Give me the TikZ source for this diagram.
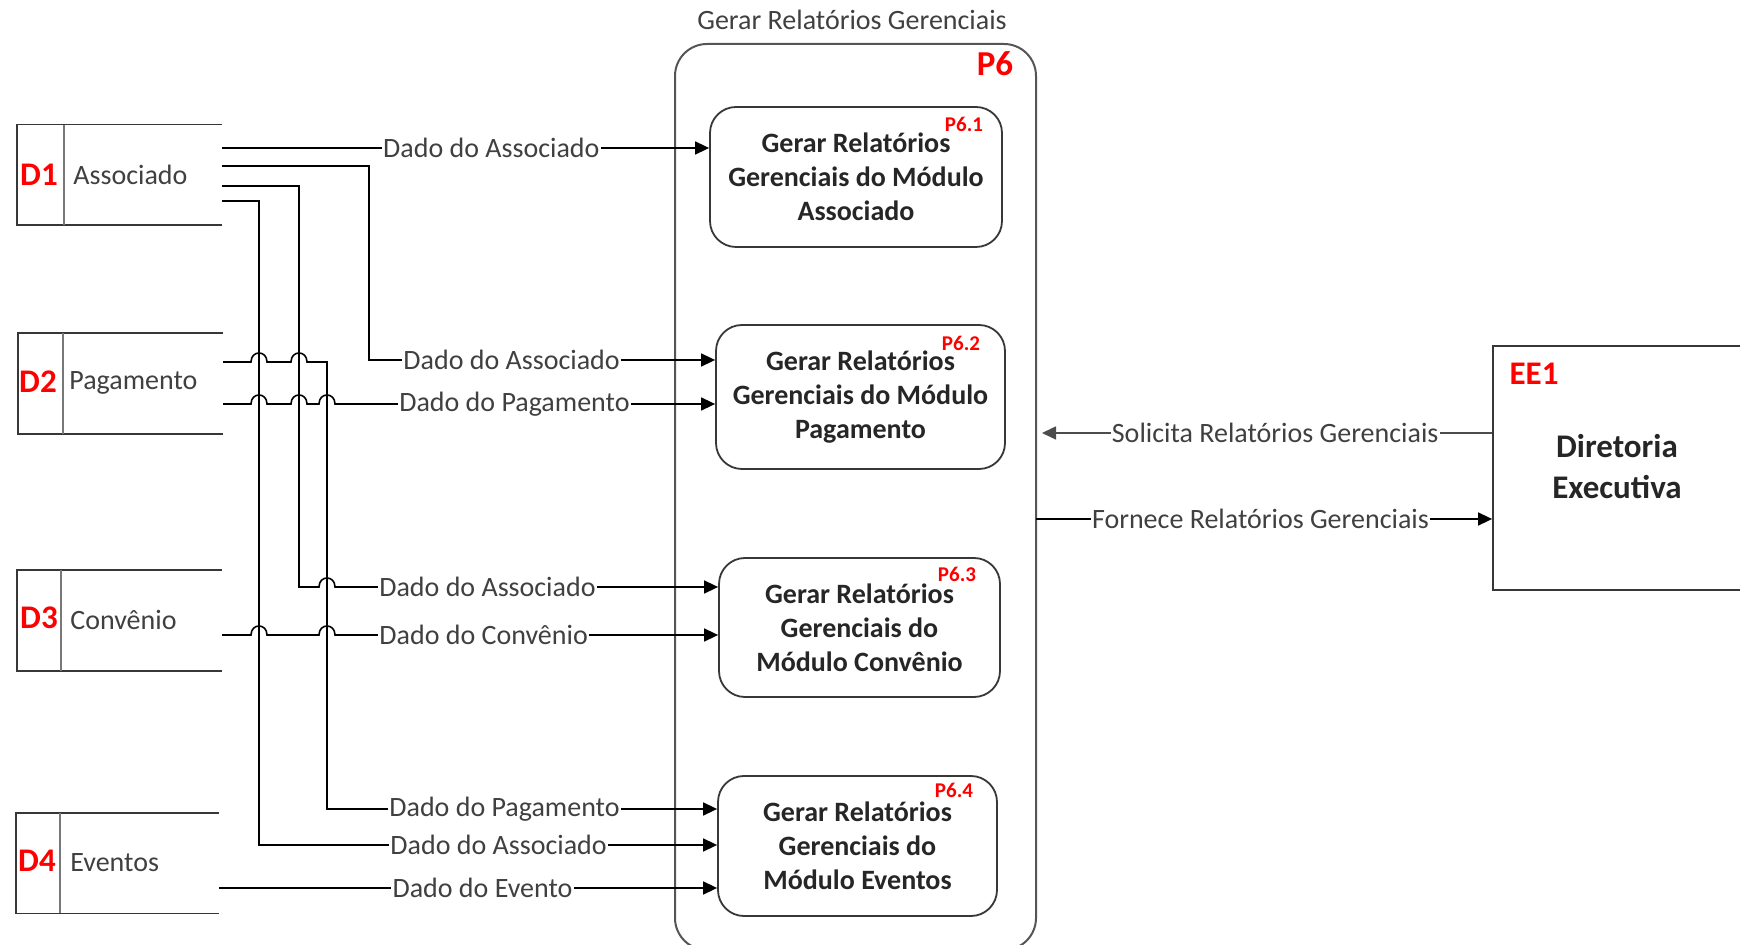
\documentclass[tikz,border=0pt]{standalone}
\usepackage{fontspec}
\setmainfont{Carlito}
\usetikzlibrary{arrows.meta,calc}
\definecolor{ered}{RGB}{255,0,0}
\definecolor{txt}{RGB}{64,64,64}
\definecolor{bord}{RGB}{55,55,55}
\definecolor{grpc}{RGB}{85,85,85}
\definecolor{divc}{RGB}{120,120,120}
\newcommand\hopx[2]{-- ({#1-8},#2) .. controls ({#1-8},{#2-12}) and ({#1+8},{#2-12}) .. ({#1+8},#2)}
\begin{document}
\begin{tikzpicture}[x=0.5pt,y=-0.5pt,
  every node/.style={inner sep=0pt},
  store/.style={minimum width=102.5pt,minimum height=50pt},
  storeln/.style={draw=bord,line width=0.9pt},
  divln/.style={draw=divc,line width=1.1pt},
  did/.style={text=ered,font=\fontsize{16.5}{19}\selectfont\bfseries},
  sname/.style={anchor=west,text=txt,font=\fontsize{14}{17}\selectfont},
  proc/.style={draw=bord,line width=0.9pt,rounded corners=13pt,align=center,text=black!85,font=\fontsize{14}{17}\selectfont\bfseries},
  pid/.style={text=ered,font=\fontsize{10.5}{12}\selectfont\bfseries},
  flow/.style={draw=black,line width=0.8pt,-{Triangle[length=7pt,width=6.5pt]}},
  lbl/.style={fill=white,inner xsep=0.6pt,inner ysep=1pt,text=txt,font=\fontsize{14}{17}\selectfont},
]
\useasboundingbox (0,0) rectangle (1740,945);

% process group P6
\node[draw=grpc,line width=1pt,rounded corners=16pt,minimum width=180.5pt,minimum height=453pt] (P6) at (855.5,497) {};
\node[text=txt,font=\fontsize{14}{17}\selectfont] (P6title) at (852,20) {Gerar Relatórios Gerenciais};
\node[text=ered,font=\fontsize{17.5}{20}\selectfont\bfseries] (P6id) at (995,64) {P6};

% subprocesses
\node[proc,minimum width=146pt,minimum height=70pt] (P61) at (856,177) {Gerar Relatórios\\Gerenciais do Módulo\\Associado};
\node[pid] (P61id) at (964,124) {P6.1};
\node[proc,minimum width=144.5pt,minimum height=72pt] (P62) at (860.5,397) {Gerar Relatórios\\Gerenciais do Módulo\\Pagamento};
\node[pid] (P62id) at (961,343) {P6.2};
\node[proc,minimum width=140.5pt,minimum height=69.5pt] (P63) at (859.5,627.5) {Gerar Relatórios\\Gerenciais do\\Módulo Convênio};
\node[pid] (P63id) at (957,574) {P6.3};
\node[proc,minimum width=139.5pt,minimum height=70pt] (P64) at (857.5,846) {Gerar Relatórios\\Gerenciais do\\Módulo Eventos};
\node[pid] (P64id) at (954,790) {P6.4};

% external entity
\node[draw=bord,line width=0.9pt,minimum width=126pt,minimum height=122pt] (EE1) at (1619,468) {};
\node[text=ered,font=\fontsize{16.5}{19}\selectfont\bfseries] (EE1id) at (1534,374) {EE1};
\node[align=center,text=black!85,font=\fontsize{16.5}{20.5}\selectfont\bfseries] (EE1name) at (1617,467) {Diretoria\\Executiva};

% data stores
\node[store] (D1) at (119.5,175) {};
\draw[storeln] (D1.north east) -- (D1.north west) -- (D1.south west) -- (D1.south east);
\draw[divln] ($(D1.north west)+(47,0)$) -- ($(D1.south west)+(47,0)$);
\node[did] (D1id) at (39,175) {D1};
\node[sname] (D1name) at (73,175) {Associado};

\node[store] (D2) at (120.5,383.5) {};
\draw[storeln] (D2.north east) -- (D2.north west) -- (D2.south west) -- (D2.south east);
\draw[divln] ($(D2.north west)+(45,0)$) -- ($(D2.south west)+(45,0)$);
\node[did] (D2id) at (38,382) {D2};
\node[sname] (D2name) at (69,383) {Pagamento};

\node[store] (D3) at (119.5,620.5) {};
\draw[storeln] (D3.north east) -- (D3.north west) -- (D3.south west) -- (D3.south east);
\draw[divln] ($(D3.north west)+(44,0)$) -- ($(D3.south west)+(44,0)$);
\node[did] (D3id) at (39,618) {D3};
\node[sname] (D3name) at (70,620) {Convênio};

\node[store,minimum width=101.5pt] (D4) at (117.5,863) {};
\draw[storeln] (D4.north east) -- (D4.north west) -- (D4.south west) -- (D4.south east);
\draw[divln] ($(D4.north west)+(44,0)$) -- ($(D4.south west)+(44,0)$);
\node[did] (D4id) at (37,861) {D4};
\node[sname] (D4name) at (70,863) {Eventos};

% connector ends
\coordinate (a1) at (222,148);
\coordinate (a2) at (222,166);
\coordinate (a3) at (222,186);
\coordinate (a4) at (222,201);
\coordinate (b1) at (223,362);
\coordinate (b2) at (223,404);
\coordinate (c1) at (222,635);
\coordinate (d1) at (219,888);
\coordinate (a2c) at (369,360);
\coordinate (a3c) at (299,587);
\coordinate (b1c) at (327,809);
\coordinate (a4c) at (259,845);
\coordinate (sol) at (1042,433);
\coordinate (forn) at (1036,519);

% flows
\draw[flow] (a1) -- node[lbl,pos=.553]{Dado do Associado} (P61.west |- a1);
\draw[flow] (a2) -- (a2 -| a2c) -- (a2c) -- node[lbl,pos=.412]{Dado do Associado} (P62.west |- a2c);
\draw[flow] (b2) \hopx{259}{404} \hopx{299}{404} \hopx{327}{404} -- node[lbl,pos=.472]{Dado do Pagamento} (P62.west |- b2);
\draw[flow] (a3) -- (a3 -| a3c) -- (a3c) \hopx{327}{587} -- node[lbl,pos=.398]{Dado do Associado} (P63.west |- a3c);
\draw[flow] (c1) \hopx{259}{635} \hopx{327}{635} -- node[lbl,pos=.388]{Dado do Convênio} (P63.west |- c1);
\draw[flow] (b1) \hopx{259}{362} \hopx{299}{362} -- (b1 -| b1c) -- (b1c) -- node[lbl,pos=.455]{Dado do Pagamento} (P64.west |- b1c);
\draw[flow] (a4) -- (a4 -| a4c) -- (a4c) -- node[lbl,pos=.523]{Dado do Associado} (P64.west |- a4c);
\draw[flow] (d1) -- node[lbl,pos=.529]{Dado do Evento} (P64.west |- d1);
\draw[flow,draw=black!70] (EE1.west |- sol) -- node[lbl,pos=.482]{Solicita Relatórios Gerenciais} (sol);
\draw[flow] (forn) -- node[lbl,pos=.492]{Fornece Relatórios Gerenciais} (EE1.west |- forn);
\end{tikzpicture}
\end{document}
